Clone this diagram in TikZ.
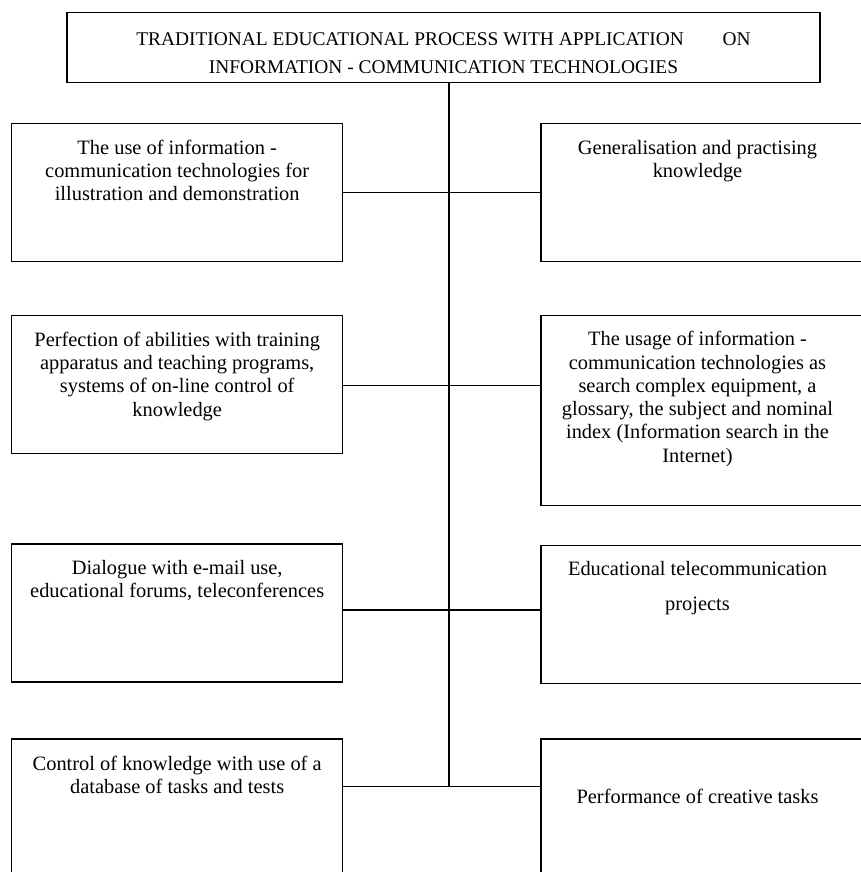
\documentclass[tikz,border=0pt]{standalone}
\usepackage{fontspec}
\setmainfont{Liberation Serif}
\usetikzlibrary{positioning,calc}
\tikzset{box/.style={draw, line width=.7pt, minimum width=165.5pt, minimum height=69pt, inner sep=0pt}, txt/.style={align=center, inner sep=0pt, font=\fontsize{10.2}{11.65}\selectfont}, link/.style={line width=.6pt}}

\begin{document}
\begin{tikzpicture}[x=.5pt,y=-.5pt]
\useasboundingbox (0,0) rectangle (861,872);
\clip (0,0) rectangle (861,872);
% header
\node[box, minimum width=376.5pt, minimum height=34.8pt] (top) at (443.5,47.5) {};
\node[txt, font=\fontsize{9.7}{14}\selectfont, below=10pt of top.north] (ttop) {TRADITIONAL EDUCATIONAL PROCESS WITH APPLICATION\hspace{2em}ON\\INFORMATION - COMMUNICATION TECHNOLOGIES};
% left column
\node[box] (l1) at (177.2,192.3) {};
\node[box] (l2) at (177.2,384.2) {};
\node[box] (l3) at (177.2,612.8) {};
\node[box] (l4) at (177.2,808) {};
% right column
\node[box] (r1) at (706.5,192.3) {};
\node[box, minimum height=95pt] (r2) at (706.5,410.7) {};
\node[box] (r3) at (706.5,614.7) {};
\node[box] (r4) at (706.5,808) {};
% texts
\node[txt, below=8.5pt of l1.north] (tl1) {The use of information -\\communication technologies for\\illustration and demonstration};
\node[txt, below=8.5pt of l2.north] (tl2) {Perfection of abilities with training\\apparatus and teaching programs,\\systems of on-line control of\\knowledge};
\node[txt, below=8.5pt of l3.north] (tl3) {Dialogue with e-mail use,\\educational forums, teleconferences};
\node[txt, below=8.5pt of l4.north] (tl4) {Control of knowledge with use of a\\database of tasks and tests};
\node[txt, below=8.5pt of r1.north, xshift=-4.5pt] (tr1) {Generalisation and practising\\knowledge};
\node[txt, below=8pt of r2.north, xshift=-4.5pt] (tr2) {The usage of information -\\communication technologies as\\search complex equipment, a\\glossary, the subject and nominal\\index (Information search in the\\Internet)};
\node[txt, below=8pt of r3.north, xshift=-4.5pt] (tr3) {Educational telecommunication\\[6pt]projects};
\node[txt, below=25pt of r4.north, xshift=-4.5pt] (tr4) {Performance of creative tasks};
% connectors
\coordinate (spine) at (449,786.7);
\draw[link] (top.south -| spine) -- (spine);
\draw[link] (l1.east) -- (r1.west |- l1.east);
\draw[link] (l2.east |- 0,385.7) -- (r2.west |- 0,385.7);
\draw[link] (l3.east |- 0,610) -- (r3.west |- 0,610);
\draw[link] (l4.east |- spine) -- (r4.west |- spine);
\end{tikzpicture}
\end{document}
